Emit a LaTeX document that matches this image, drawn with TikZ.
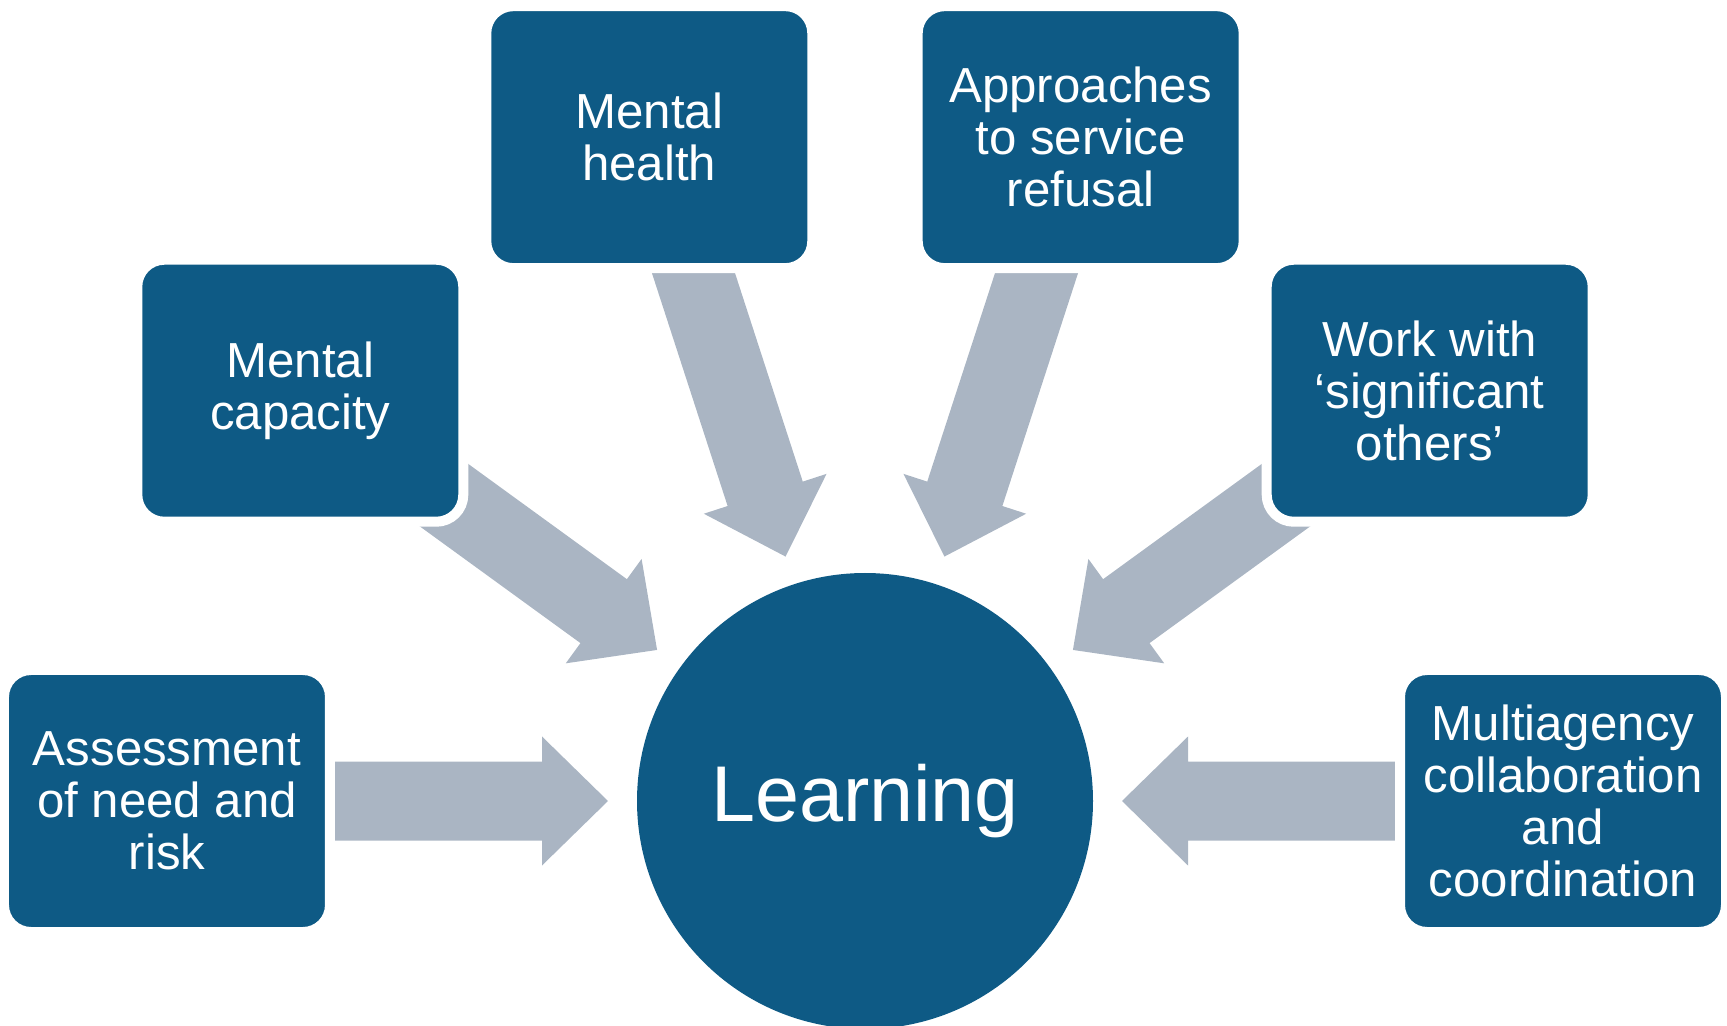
\documentclass[tikz,border=0pt]{standalone}
\usepackage{fontspec}
\setmainfont{Liberation Sans}
\usepackage{tikz}
\usetikzlibrary{calc,backgrounds}
\definecolor{boxblue}{HTML}{0E5A85}
\definecolor{arrowgrey}{HTML}{AAB5C3}

\begin{document}
\begin{tikzpicture}[
        topic/.style={rectangle,rounded corners=0.27cm,fill=boxblue,draw=white,line width=0.1cm,
            minimum width=3.26cm,minimum height=2.62cm,inner sep=0pt,text=white,align=center,
            font=\fontsize{14}{14.8}\selectfont},
        hub/.style={circle,fill=boxblue,minimum size=4.56cm,inner sep=0pt,text=white,
            font=\fontsize{22.5}{27}\selectfont}]
        \useasboundingbox (-8.65,-2.24) rectangle (8.62,8.01);
        \node[hub] (learn) at (0,0) {Learning};
        \node[topic] (assess)   at (180:6.98) {Assessment\\of need and\\risk};
        \node[topic] (capacity) at (144:6.98) {Mental\\capacity};
        \node[topic] (health)   at (108:6.98) {Mental\\health};
        \node[topic] (refusal)  at (72:6.98)  {Approaches\\to service\\refusal};
        \node[topic] (others)   at (36:6.98)  {Work with\\‘significant\\others’};
        \node[topic] (multi)    at (0:6.98)   {Multiagency\\collaboration\\and\\coordination};
        % block arrows, tails hidden under the boxes
        \begin{scope}[on background layer]
        \foreach \b in {assess,capacity,health,refusal,others,multi}{
            \coordinate (tip)  at ($(learn)!2.57cm!(\b)$);
            \coordinate (neck) at ($(learn)!3.23cm!(\b)$);
            \coordinate (tail) at ($(learn)!6cm!(\b)$);
            \fill[arrowgrey] ($(tail)!0.395cm!-90:(learn)$) -- ($(neck)!0.395cm!-90:(learn)$)
                -- ($(neck)!0.645cm!-90:(learn)$) -- (tip) -- ($(neck)!0.645cm!90:(learn)$)
                -- ($(neck)!0.395cm!90:(learn)$) -- ($(tail)!0.395cm!90:(learn)$) -- cycle;
        }
        \end{scope}
    \end{tikzpicture}
\end{document}
